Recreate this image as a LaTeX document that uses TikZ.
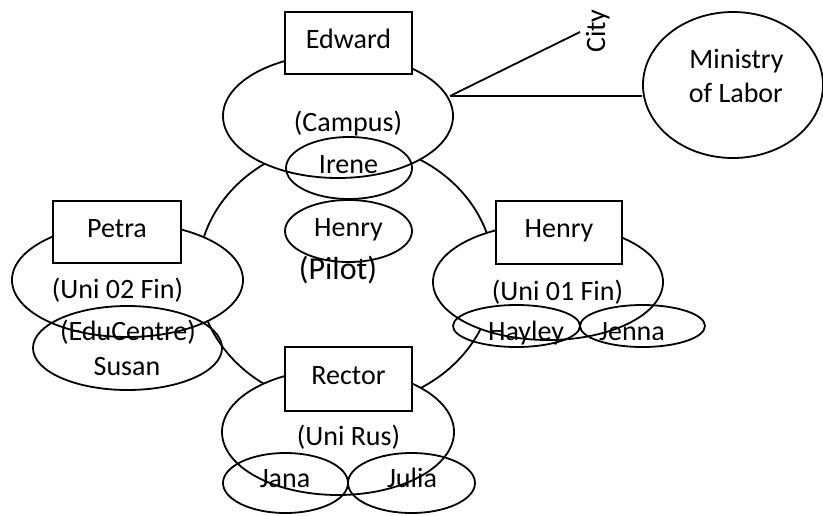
\documentclass[tikz,border=0pt]{standalone}
\usepackage{fontspec}
\setmainfont{Carlito}
\usetikzlibrary{shapes.geometric}

\tikzset{
  outline/.style={draw=black, line width=1.8pt},
  oval/.style={outline, ellipse, inner sep=0pt},
  bigoval/.style={oval, fill=white},
  box/.style={outline, rectangle, fill=white, inner sep=0pt},
  txt/.style={anchor=base, inner sep=0pt, font=\fontsize{28pt}{34pt}\selectfont},
  bigtxt/.style={anchor=base, inner sep=0pt, font=\fontsize{32pt}{38pt}\selectfont},
  link/.style={draw=black, line width=1.8pt},
}

\begin{document}
\begin{tikzpicture}[x=1pt, y=-1pt]
  \useasboundingbox (0,0) rectangle (823,515);

  % the pilot ring linking the four institutions
  \node[oval, minimum width=296pt, minimum height=264pt] (pilot) at (346,274) {};

  % links from the campus to the city and the ministry
  \coordinate (v) at (450,96);
  \coordinate (cityend) at (580,32);
  \node[oval, fill=white, minimum width=180pt, minimum height=146pt] (ministry) at (733,85) {};
  \draw[link] (v) -- (cityend);
  \draw[link] (v) -- (ministry.west |- v);

  % institution ellipses
  \node[bigoval, minimum width=230pt, minimum height=124pt] (campus) at (338,116) {};
  \node[bigoval, minimum width=231pt, minimum height=114pt] (uni02) at (127.5,280) {};
  \node[bigoval, minimum width=230pt, minimum height=116pt] (uni01) at (548,282) {};
  \node[bigoval, minimum width=232pt, minimum height=126pt] (unirus) at (338,432) {};

  % people ellipses
  \node[oval, minimum width=126pt, minimum height=62pt] (irene) at (349,168) {};
  \node[oval, minimum width=127pt, minimum height=62pt] (henryin) at (348.5,231) {};
  \node[oval, minimum width=189pt, minimum height=84pt] (susan) at (127.5,348) {};
  \node[oval, minimum width=127pt, minimum height=42pt] (hayley) at (516.5,326) {};
  \node[oval, minimum width=125pt, minimum height=42pt] (jenna) at (642.5,326) {};
  \node[oval, minimum width=125pt, minimum height=60pt] (jana) at (285.5,483) {};
  \node[oval, minimum width=127pt, minimum height=60pt] (julia) at (411.5,483) {};

  % heads of the institutions
  \node[box, minimum width=127pt, minimum height=62pt] (edward) at (348.5,43) {};
  \node[box, minimum width=128pt, minimum height=62pt] (petra) at (117,232) {};
  \node[box, minimum width=126pt, minimum height=63pt] (henrybox) at (559,232.5) {};
  \node[box, minimum width=127pt, minimum height=64pt] (rector) at (348.5,379) {};

  % labels
  \node[txt] (tedward) at (348.5,48) {Edward};
  \node[txt] (tcampus) at (348,131) {(Campus)};
  \node[txt] (tirene) at (348.5,173) {Irene};
  \node[txt] (thenryin) at (348.5,236) {Henry};
  \node[bigtxt] (tpilot) at (338,279) {(Pilot)};
  \node[txt] (tpetra) at (117,237) {Petra};
  \node[txt] (tuni02) at (117.5,298) {(Uni 02 Fin)};
  \node[txt] (tedu) at (128,340) {(EduCentre)};
  \node[txt] (tsusan) at (127,375) {Susan};
  \node[txt] (thenrybox) at (559,237) {Henry};
  \node[txt] (tuni01) at (557.5,300) {(Uni 01 Fin)};
  \node[txt] (thayley) at (526,340) {Hayley};
  \node[txt] (tjenna) at (632,340) {Jenna};
  \node[txt] (trector) at (348.5,384) {Rector};
  \node[txt] (tunirus) at (348.5,445) {(Uni Rus)};
  \node[txt] (tjana) at (285,487) {Jana};
  \node[txt] (tjulia) at (412,487) {Julia};
  \node[txt] (tmin1) at (736.5,68) {Ministry};
  \node[txt] (tmin2) at (736,102) {of Labor};
  \node[txt, anchor=base west, rotate=90] (tcity) at (605,53) {City};
\end{tikzpicture}
\end{document}
